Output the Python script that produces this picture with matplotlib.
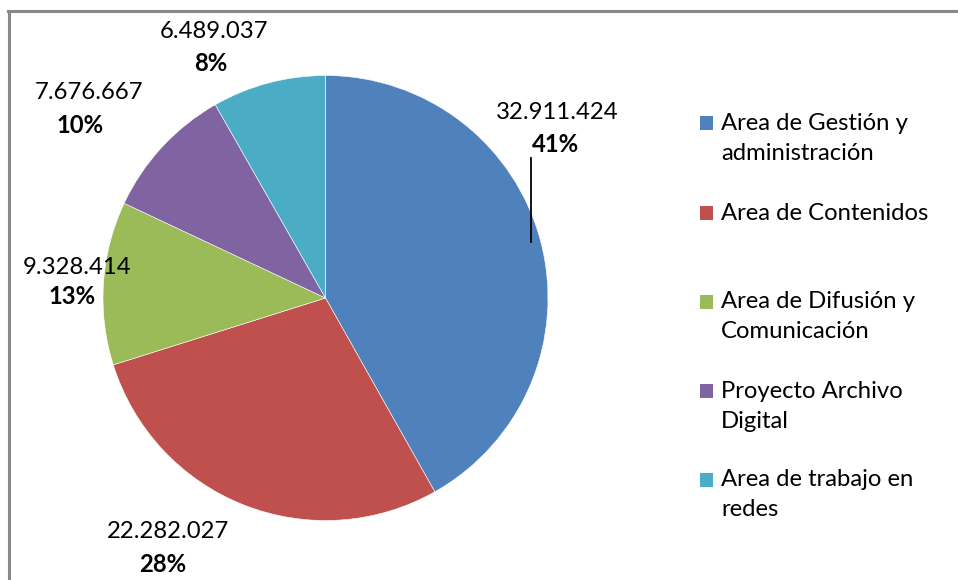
import matplotlib
matplotlib.use("Agg")
import matplotlib.pyplot as plt
from matplotlib.lines import Line2D
from matplotlib.patches import Rectangle

# data
categories = ["Area de Gestión y\nadministración", "Area de Contenidos",
              "Area de Difusión y\nComunicación", "Proyecto Archivo\nDigital",
              "Area de trabajo en\nredes"]
values = [32911424, 22282027, 9328414, 7676667, 6489037]
value_labels = ["32.911.424", "22.282.027", "9.328.414", "7.676.667", "6.489.037"]
pct_labels = ["41%", "28%", "13%", "10%", "8%"]
colors = ["#4F81BD", "#C0504D", "#9BBB59", "#8064A2", "#4BACC6"]

plt.rcParams['font.family'] = ['Lato', 'DejaVu Sans']
FS = 17.2

W, H = 958, 580
fig = plt.figure(figsize=(W / 100, H / 100), dpi=100)

# pie placement in pixels
cx, cy, r = 325.5, 298, 222.5
ax = fig.add_axes([(cx - r) / W, (H - cy - r) / H, 2 * r / W, 2 * r / H])
wedges, _ = ax.pie(values, colors=colors, startangle=90, counterclock=False,
                   radius=1, wedgeprops=dict(edgecolor='white', linewidth=0.4))
ax.set_xlim(-1, 1)
ax.set_ylim(-1, 1)
ax.set_aspect('equal')
ax.axis('off')

# label positions (pixel coords of value / pct text centres)
label_pos = [((557, 112), (555, 144)),
             ((168, 532), (163, 565)),
             ((77, 267), (72, 297)),
             ((89, 92), (80, 125)),
             ((214, 32), (211, 63))]

def to_data(px, py):
    return (px - cx) / r, (cy - py) / r

for (vp, pp), vl, pl in zip(label_pos, value_labels, pct_labels):
    x, y = to_data(*vp)
    ax.text(x, y, vl, ha='center', va='center', fontsize=FS, color='black')
    x, y = to_data(*pp)
    ax.text(x, y, pl, ha='center', va='center', fontsize=FS, fontweight='bold', color='black')

# leader line for the first label
x0, y0 = to_data(531, 158)
x1, y1 = to_data(531, 242)
ax.plot([x0, x1], [y0, y1], color='black', lw=1.3, clip_on=False)

# legend drawn by hand: square aligned with first line
leg_y = [123, 213, 302, 391, 480]
line_h = 30
for lab, col, ly in zip(categories, colors, leg_y):
    fig.add_artist(Rectangle((700 / W, 1 - (ly + 7) / H), 13 / W, 14 / H,
                             transform=fig.transFigure, facecolor=col, edgecolor='none'))
    for i, line in enumerate(lab.split("\n")):
        fig.text(721 / W, 1 - (ly + i * line_h) / H, line, ha='left', va='center',
                 fontsize=FS, color='black')

# outer frame (top and left visible)
fig.add_artist(Line2D([8 / W, 1], [1 - 10.5 / H] * 2, transform=fig.transFigure,
                      color='#888888', lw=2.2))
fig.add_artist(Line2D([9 / W] * 2, [0, 1 - 10.5 / H], transform=fig.transFigure,
                      color='#888888', lw=2.2))

fig.savefig("out.png", dpi=100)
plt.close(fig)
